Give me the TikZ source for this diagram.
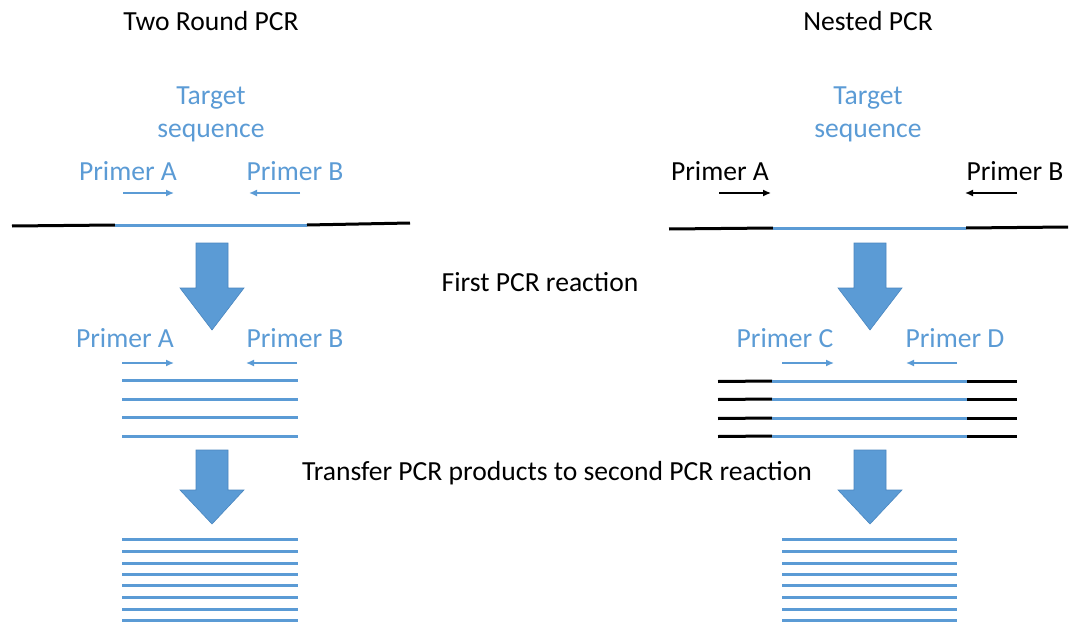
\documentclass[tikz,border=0pt]{standalone}
\usepackage{fontspec}
\setmainfont{Carlito}
\usetikzlibrary{arrows.meta}
\definecolor{pblue}{HTML}{5B9BD5}
\definecolor{pedge}{HTML}{4A86BF}
\begin{document}
\begin{tikzpicture}[x=1pt,y=-1pt,
  lbl/.style={font=\fontsize{27.6}{32}\selectfont, anchor=base, inner sep=0pt},
  blbl/.style={lbl, text=pblue},
  strand/.style={line width=3pt, pblue},
  flank/.style={line width=3pt, black},
  primer/.style={line width=1.4pt, -{Latex[length=8pt,width=7pt]}},
  bigarrow/.style={fill=pblue, draw=pedge, line width=0.6pt}]
\useasboundingbox (0,0) rectangle (1070,623);
% titles
\node[lbl] (t1) at (211,31) {Two Round PCR};
\node[lbl] (t2) at (868,31) {Nested PCR};
% target sequence labels
\node[blbl] (ts1a) at (211,105) {Target};
\node[blbl] (ts1b) at (211,137) {sequence};
\node[blbl] (ts2a) at (868,105) {Target};
\node[blbl] (ts2b) at (868,137) {sequence};
% left primers row 1
\node[blbl] (lpa) at (128,180) {Primer A};
\node[blbl] (lpb) at (295,180) {Primer B};
\draw[primer, pblue] (123,193) -- (174,193);
\draw[primer, pblue] (300,193) -- (249,193);
% left template
\draw[flank] (12,226) -- (115,225);
\draw[strand] (115,225) -- (307,225);
\draw[flank] (307,225) -- (410,223);
% right primers row 1
\node[lbl] (rpa) at (720,180) {Primer A};
\node[lbl] (rpb) at (1015,180) {Primer B};
\draw[primer, black] (719,193) -- (771,193);
\draw[primer, black] (1017,193) -- (965,193);
% right template
\draw[flank] (669,229) -- (773,228);
\draw[strand] (773,228) -- (966,228);
\draw[flank] (966,228) -- (1068,227);
% big arrows row 1
\foreach \cx in {212,870}{
  \draw[bigarrow] (\cx-16,243) -- (\cx+16,243) -- (\cx+16,288) -- (\cx+32,288) -- (\cx,330) -- (\cx-32,288) -- (\cx-16,288) -- cycle;
}
\node[lbl] (first) at (540,291) {First PCR reaction};
% left primers row 2
\node[blbl] (lpa2) at (125,347) {Primer A};
\node[blbl] (lpb2) at (295,347) {Primer B};
\draw[primer, pblue] (122,363) -- (174,363);
\draw[primer, pblue] (297,363) -- (246,363);
\foreach \y in {380,399,417,436}{
  \draw[strand] (122,\y) -- (298,\y);
}
% right primers row 2
\node[blbl] (rpc) at (785,347) {Primer C};
\node[blbl] (rpd) at (955,347) {Primer D};
\draw[primer, pblue] (782,363) -- (834,363);
\draw[primer, pblue] (957,363) -- (906,363);
\foreach \y in {381,399,418,436}{
  \draw[flank] (718,\y+0.5) -- (772,\y);
  \draw[strand] (772,\y) -- (967,\y);
  \draw[flank] (967,\y) -- (1017,\y);
}
% big arrows row 2
\foreach \cx in {212,870}{
  \draw[bigarrow] (\cx-16,450) -- (\cx+16,450) -- (\cx+16,490) -- (\cx+32,490) -- (\cx,524) -- (\cx-32,490) -- (\cx-16,490) -- cycle;
}
\node[lbl] (transfer) at (557,480) {Transfer PCR products to second PCR reaction};
% amplified products
\foreach \y in {539,551,563,574,585,597,609,620}{
  \draw[strand] (122,\y) -- (298,\y);
  \draw[strand] (782,\y) -- (957,\y);
}
\end{tikzpicture}
\end{document}
